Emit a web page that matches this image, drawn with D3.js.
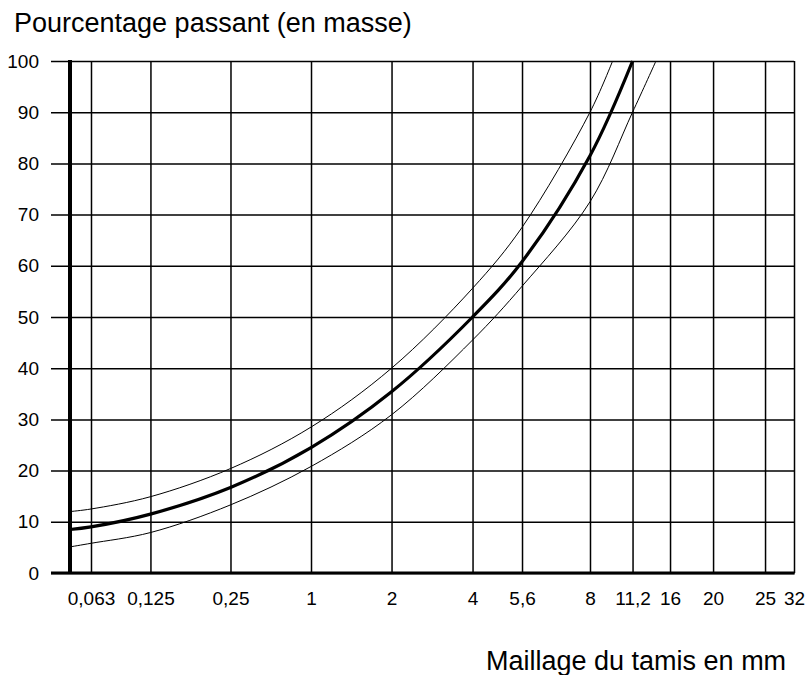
<!DOCTYPE html>
<html>
<head>
<meta charset="utf-8">
<script src="https://cdn.jsdelivr.net/npm/d3@7"></script>
<style>
	body { margin: 0; background: #fff; }
	svg { display: block; font-family: "Liberation Sans", Arial, sans-serif; }
</style>
</head>
<body>
<script>
// tamis (mm) et libellés de l'axe
var sieveTicks = [0.063, 0.125, 0.25, 1, 2, 4, 5.6, 8, 11.2, 16, 20, 25, 32];
var tickLabels = ['0,063', '0,125', '0,25', '1', '2', '4', '5,6', '8', '11,2', '16', '20', '25', '32'];
var pctTicks = [0, 10, 20, 30, 40, 50, 60, 70, 80, 90, 100];

// courbe granulométrique (centre) et fuseau
var midSizes = [0, 0.063, 0.125, 0.25, 1, 2, 4, 5.6, 8, 11.2];
var midPct = [8.5, 9.0, 11.5, 16.7, 24.5, 35.4, 50, 60.8, 81.5, 100];

var upperSizes = [0, 0.063, 0.125, 0.25, 1, 2, 4, 5.6, 8, 9.7];
var upperPct = [12.0, 12.5, 14.9, 20.4, 28.5, 40, 55.6, 67.5, 90, 100];

var lowerSizes = [0, 0.063, 0.125, 0.25, 1, 2, 4, 5.6, 8, 11.2, 14.2];
var lowerPct = [5.1, 5.8, 7.9, 13.3, 20.8, 30.9, 45.5, 56, 72.5, 90, 100];

var margin = {
	top: 61,
	right: 15,
	bottom: 102,
	left: 70
};

var width = 809 - margin.left - margin.right,
	height = 675 - margin.top - margin.bottom;

// l'échelle du graphique n'est ni linéaire ni log : grille en 9 unités
var gridUnits = [0, 0.261, 1, 1.995, 2.996, 3.997, 5.004, 5.619, 6.464, 6.993, 7.459, 7.994, 8.64, 9];

var x = d3.scaleLinear()
	.domain([0].concat(sieveTicks))
	.range(gridUnits.map(function(u) { return u / 9 * width; }));

var y = d3.scaleLinear().domain([0, 100]).range([height, 0]);

var svg = d3.select('body').append('svg')
	.attr('width', 809)
	.attr('height', 675)
	.append('g')
	.attr('transform', 'translate(' + margin.left + ',' + margin.top + ')');

// grille horizontale + libellés Y
var yAxis = svg.append('g')
	.attr('transform', 'translate(-19,0)')
	.call(d3.axisLeft(y)
		.tickValues(pctTicks)
		.tickSize(-(width + 19))
		.tickPadding(12));

yAxis.select('.domain').remove();
yAxis.selectAll('line').attr('stroke', '#000').attr('stroke-width', 1.5);
yAxis.selectAll('text')
	.attr('fill', '#000')
	.style('font-size', '19px');

// grille verticale + libellés X
var xAxis = svg.append('g')
	.attr('transform', 'translate(0,' + height + ')')
	.call(d3.axisBottom(x)
		.tickValues(sieveTicks)
		.tickFormat(function(d, i) { return tickLabels[i]; })
		.tickSize(-height)
		.tickPadding(19));

xAxis.select('.domain').remove();
xAxis.selectAll('line').attr('stroke', '#000').attr('stroke-width', 1.5);
xAxis.selectAll('text')
	.attr('fill', '#000')
	.style('font-size', '19px');

// axes épais
svg.append('line')
	.attr('x1', x(0)).attr('x2', x(0))
	.attr('y1', y(100) - 1).attr('y2', y(0))
	.attr('stroke', '#000')
	.attr('stroke-width', 4);

svg.append('line')
	.attr('x1', -19).attr('x2', x(32) + 0.75)
	.attr('y1', y(0)).attr('y2', y(0))
	.attr('stroke', '#000')
	.attr('stroke-width', 3);

var curve = d3.line()
	.curve(d3.curveCatmullRom.alpha(0.5))
	.x(function(d) { return x(d[0]); })
	.y(function(d) { return y(d[1]); });

function pairs(sizes, pct) {
	return sizes.map(function(s, i) { return [s, pct[i]]; });
}

svg.append('path')
	.datum(pairs(upperSizes, upperPct))
	.attr('d', curve)
	.attr('fill', 'none')
	.attr('stroke', '#000')
	.attr('stroke-width', 1);

svg.append('path')
	.datum(pairs(lowerSizes, lowerPct))
	.attr('d', curve)
	.attr('fill', 'none')
	.attr('stroke', '#000')
	.attr('stroke-width', 1);

svg.append('path')
	.datum(pairs(midSizes, midPct))
	.attr('d', curve)
	.attr('fill', 'none')
	.attr('stroke', '#000')
	.attr('stroke-width', 3.2);

// titres
svg.append('text')
	.attr('x', 14 - margin.left)
	.attr('y', 32 - margin.top)
	.style('font-size', '27px')
	.text('Pourcentage passant (en masse)');

svg.append('text')
	.attr('x', 486 - margin.left)
	.attr('y', 670 - margin.top)
	.style('font-size', '27px')
	.text('Maillage du tamis en mm');
</script>
</body>
</html>
